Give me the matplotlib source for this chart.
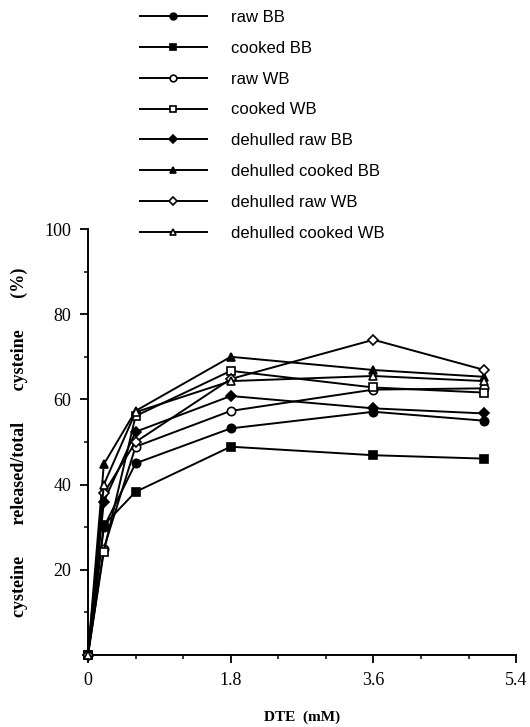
import numpy as np
import matplotlib.pyplot as plt
from matplotlib.ticker import MultipleLocator

# DTE concentration (mM)
dte = [0, 0.2, 0.6, 1.8, 3.6, 5.0]

# cysteine released / total cysteine (%)
raw_bb = [0, 30.0, 45.0, 53.2, 57.1, 55.0]
cooked_bb = [0, 30.5, 38.3, 48.9, 46.9, 46.1]
raw_wb = [0, 25.0, 48.9, 57.3, 62.3, 62.6]
cooked_wb = [0, 24.3, 56.1, 66.7, 62.8, 61.6]
dh_raw_bb = [0, 36.0, 52.4, 60.8, 57.9, 56.7]
dh_cooked_bb = [0, 44.8, 57.3, 70.0, 66.9, 65.3]
dh_raw_wb = [0, 38.0, 50.0, 64.8, 74.0, 66.9]
dh_cooked_wb = [0, 40.0, 57.0, 64.3, 65.5, 64.3]

labels = ['raw BB', 'cooked BB', 'raw WB', 'cooked WB',
          'dehulled raw BB', 'dehulled cooked BB', 'dehulled raw WB',
          'dehulled cooked WB']
series = [raw_bb, cooked_bb, raw_wb, cooked_wb,
          dh_raw_bb, dh_cooked_bb, dh_raw_wb, dh_cooked_wb]
markers = ['o', 's', 'o', 's', 'D', '^', 'D', '^']
filled = [True, True, False, False, True, True, False, False]
sizes = [6, 6, 6, 6, 5, 6, 5, 6]

fig = plt.figure(figsize=(5.3, 7.27), dpi=100)
ax = fig.add_axes([0.166, 0.099, 0.808, 0.586])

for y, lab, m, f, s in zip(series, labels, markers, filled, sizes):
    ax.plot(dte, y, color='black', lw=1.4, marker=m, ms=s,
            mfc='black' if f else 'white', mec='black', mew=1.2,
            label=lab, clip_on=False, zorder=3)

ax.set_xlim(0, 5.4)
ax.set_ylim(0, 100)
ax.xaxis.set_minor_locator(MultipleLocator(0.6))
ax.yaxis.set_minor_locator(MultipleLocator(10))
ax.set_xticks([0, 1.8, 3.6, 5.4])
ax.set_xticklabels(['0', '1.8', '3.6', '5.4'])
ax.set_yticks([20, 40, 60, 80, 100])

for side in ['top', 'right']:
    ax.spines[side].set_visible(False)
for side in ['left', 'bottom']:
    ax.spines[side].set_linewidth(1.4)

ax.tick_params(which='major', direction='out', length=6, width=1.3,
               labelsize=13, pad=6)
ax.tick_params(which='minor', direction='out', length=3, width=1.1)
for t in ax.get_xticklabels() + ax.get_yticklabels():
    t.set_fontfamily('Liberation Serif')

ax.set_xlabel('DTE  (mM)', fontfamily='Liberation Serif', fontweight='bold',
              fontsize=11, labelpad=16)
ax.set_ylabel('cysteine       released/total       cysteine       (%)',
              fontfamily='Liberation Serif', fontweight='bold', fontsize=13,
              labelpad=12)

leg = fig.legend(loc='upper left', bbox_to_anchor=(0.236, 1.007),
                 frameon=False, handlelength=4.0, handletextpad=1.45,
                 labelspacing=0.95, markerscale=0.8,
                 prop={'family': 'Liberation Sans', 'size': 12})

fig.savefig('out.png', dpi=100)
